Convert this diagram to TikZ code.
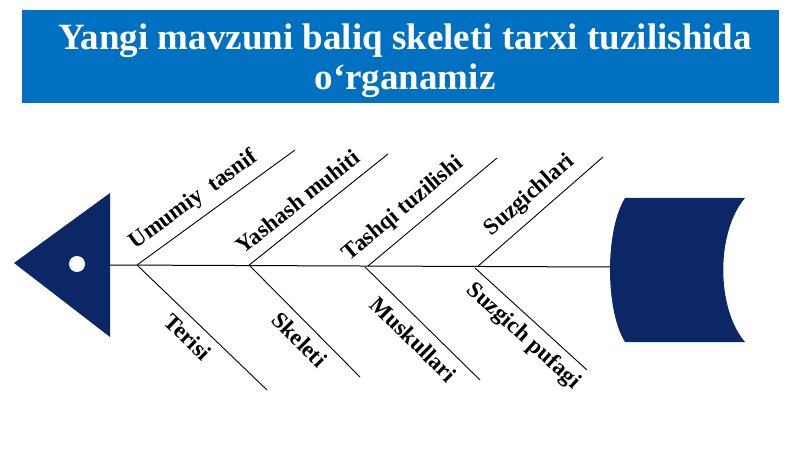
\documentclass[tikz,border=0pt]{standalone}
\usepackage{fontspec}
\setmainfont{Liberation Serif}
\definecolor{titleblue}{HTML}{0070C0}
\definecolor{fishblue}{HTML}{0B2766}
\tikzset{
  bone/.style={draw, line width=0.9pt},
  bonelabel/.style={font=\bfseries\fontsize{23}{23}\selectfont, inner sep=0pt, sloped},
}
\begin{document}
\begin{tikzpicture}[x=1pt, y=-1pt]
  \useasboundingbox (0,0) rectangle (800,449);
  % title
  \fill[titleblue] (22,10) rectangle (779,103);
  \node[text=white, font=\bfseries\fontsize{37}{40}\selectfont, align=center] (title) at (405,61)
    {Yangi mavzuni baliq skeleti tarxi tuzilishida\\o‘rganamiz};
  % head and tail
  \fill[fishblue] (14,263) -- (110,193) -- (110,337) -- cycle;
  \fill[white] (77,264) circle (8);
  \fill[fishblue] (625,198) -- (745,198) .. controls (716,232) and (716,308) .. (745,342)
    -- (625,342) .. controls (605,310) and (605,230) .. (625,198) -- cycle;
  \coordinate (head) at (110,265);
  \coordinate (tail) at (610,267);
  \draw[bone, line width=1pt] (head) -- (tail);
  % upper bones
  \coordinate (u1) at (137,265); \coordinate (u1e) at (295,150);
  \coordinate (u2) at (248,266); \coordinate (u2e) at (388,154);
  \coordinate (u3) at (368,266); \coordinate (u3e) at (497,158);
  \coordinate (u4) at (477,267); \coordinate (u4e) at (603,157);
  \draw[bone] (u1) -- node[bonelabel, pos=0.43, above=8pt] {Umumiy\ \ tasnif} (u1e);
  \draw[bone] (u2) -- node[bonelabel, pos=0.44, above=11pt] {Yashash muhiti} (u2e);
  \draw[bone] (u3) -- node[bonelabel, pos=0.38, above=10pt] {Tashqi tuzilishi} (u3e);
  \draw[bone] (u4) -- node[bonelabel, pos=0.52, above=8pt] {Suzgichlari} (u4e);
  % lower bones
  \coordinate (l1) at (137,265); \coordinate (l1e) at (267,390);
  \coordinate (l2) at (250,266); \coordinate (l2e) at (360,377);
  \coordinate (l3) at (365,267); \coordinate (l3e) at (480,380);
  \coordinate (l4) at (475,268); \coordinate (l4e) at (587,370);
  \draw[bone] (l1) -- node[bonelabel, pos=0.48, below=8pt] {Terisi} (l1e);
  \draw[bone] (l2) -- node[bonelabel, pos=0.56, below=8pt] {Skeleti} (l2e);
  \draw[bone] (l3) -- node[bonelabel, pos=0.53, below=9pt] {Muskullari} (l3e);
  \draw[bone] (l4) -- node[bonelabel, pos=0.54, below=7pt] {Suzgich pufagi} (l4e);
\end{tikzpicture}
\end{document}
